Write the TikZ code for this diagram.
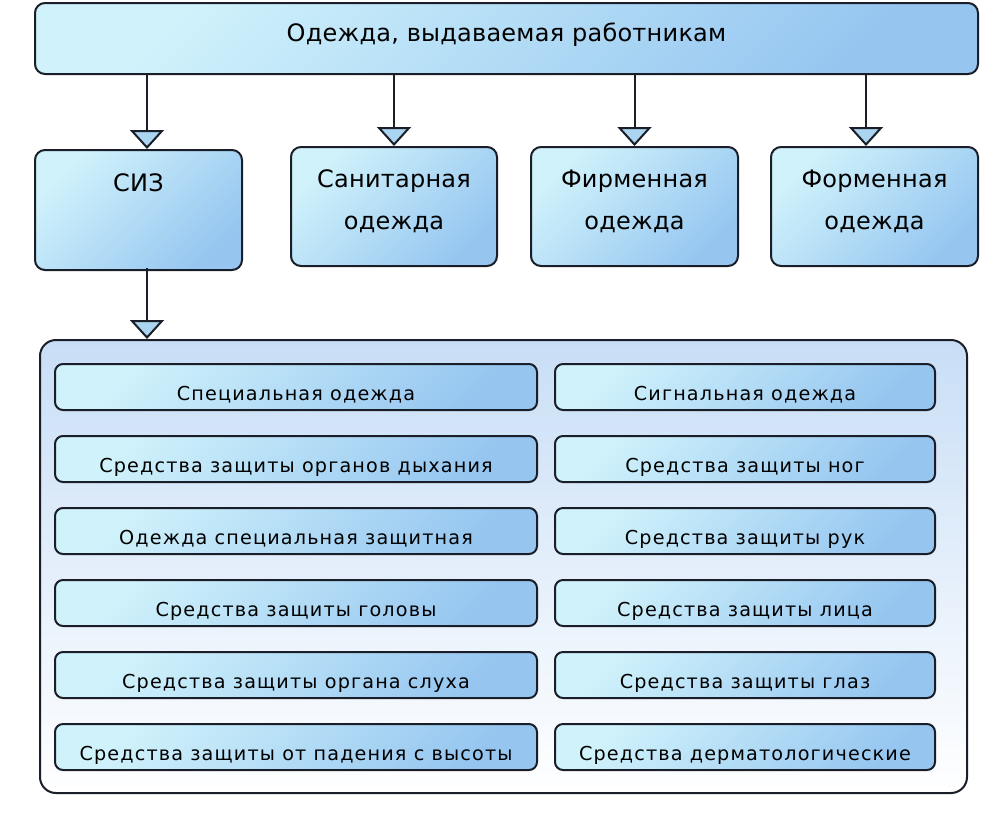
\documentclass[tikz,border=0pt]{standalone}
\usepackage{fontspec}
\setmainfont{DejaVu Sans}
\newfontfamily\boxfont[LetterSpace=1]{DejaVu Sans}
\newfontfamily\itemfont[LetterSpace=6]{DejaVu Sans}
\usetikzlibrary{arrows.meta}
\definecolor{boxlight}{RGB}{208,242,251}
\definecolor{boxdark}{RGB}{150,198,240}
\definecolor{framelight}{RGB}{200,222,246}
\definecolor{tipblue}{RGB}{170,212,240}
\definecolor{edge}{RGB}{25,30,40}
\begin{document}
\begin{tikzpicture}[x=0.5pt,y=-0.5pt,
    box/.style={draw=edge,line width=1pt,rounded corners=5pt,top color=boxlight,bottom color=boxdark,shading angle=45,inner sep=0pt,align=center,text depth=6.5pt,font=\boxfont\fontsize{12}{21}\selectfont},
    item/.style={draw=edge,line width=1pt,rounded corners=4pt,top color=boxlight,bottom color=boxdark,shading angle=45,inner sep=0pt,minimum height=23pt,text height=13pt,text depth=0pt,font=\itemfont\fontsize{9.6}{11}\selectfont},
    arr/.style={draw=edge,line width=1pt,-{Triangle[width=17pt,length=9.5pt,fill=tipblue]}}]
  \useasboundingbox (0,0) rectangle (994,820);
  %% top
  \node[box,minimum width=471.5pt,minimum height=35.5pt] (top) at (506.5,38.5) {Одежда, выдаваемая работникам};
  %% second row
  \node[box,minimum width=103.5pt,minimum height=60pt] (siz) at (138.5,210) {СИЗ\\ \mbox{}};
  \node[box,minimum width=103pt,minimum height=59.5pt] (san) at (394,206.5) {Санитарная\\одежда};
  \node[box,minimum width=103.5pt,minimum height=59.5pt] (firm) at (634.5,206.5) {Фирменная\\одежда};
  \node[box,minimum width=103.5pt,minimum height=59.5pt] (form) at (874.5,206.5) {Форменная\\одежда};
  \draw[arr] ([xshift=4.25pt]top.south -| siz.north) -- ([xshift=4.25pt]siz.north);
  \draw[arr] (top.south -| san.north) -- (san.north);
  \draw[arr] (top.south -| firm.north) -- (firm.north);
  \draw[arr] ([xshift=-4.25pt]top.south -| form.north) -- ([xshift=-4.25pt]form.north);
  %% group of SIZ
  \node[draw=edge,line width=1pt,rounded corners=8pt,top color=framelight,bottom color=white,minimum width=463.5pt,minimum height=226.5pt] (group) at (503.5,566.5) {};
  \draw[arr] ([xshift=4.25pt,yshift=1.5pt]siz.south) -- ([xshift=4.25pt]siz.south |- group.north);
  %% left column
  \node[item,minimum width=241pt] (a1) at (296,387) {Специальная одежда};
  \node[item,minimum width=241pt] (a2) at (296,459) {Средства защиты органов дыхания};
  \node[item,minimum width=241pt] (a3) at (296,531) {Одежда специальная защитная};
  \node[item,minimum width=241pt] (a4) at (296,603) {Средства защиты головы};
  \node[item,minimum width=241pt] (a5) at (296,675) {Средства защиты органа слуха};
  \node[item,minimum width=241pt] (a6) at (296,747) {Средства защиты от падения с высоты};
  %% right column
  \node[item,minimum width=190pt] (b1) at (745,387) {Сигнальная одежда};
  \node[item,minimum width=190pt] (b2) at (745,459) {Средства защиты ног};
  \node[item,minimum width=190pt] (b3) at (745,531) {Средства защиты рук};
  \node[item,minimum width=190pt] (b4) at (745,603) {Средства защиты лица};
  \node[item,minimum width=190pt] (b5) at (745,675) {Средства защиты глаз};
  \node[item,minimum width=190pt] (b6) at (745,747) {Средства дерматологические};
\end{tikzpicture}
\end{document}
